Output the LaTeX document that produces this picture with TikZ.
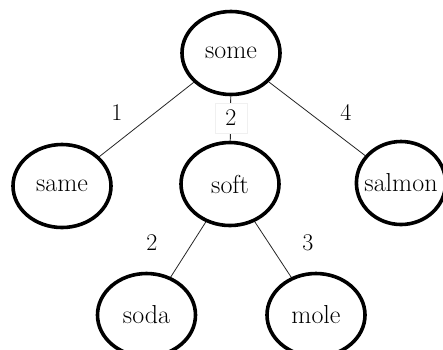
\documentclass[tikz,border=0pt]{standalone}
\usetikzlibrary{shapes.geometric}
\begin{document}
\begin{tikzpicture}[x=1pt,y=-1pt,
  word/.style={ellipse,draw=black,line width=3.6pt,minimum width=98pt,minimum height=83pt,inner sep=0pt,font=\fontsize{26}{30}\selectfont},
  num/.style={font=\fontsize{24}{28}\selectfont,inner sep=2pt},
  boxnum/.style={num,fill=white,draw=black!6,line width=0.6pt,minimum width=32pt,minimum height=30pt},
  link/.style={draw=black!85,line width=0.8pt}]
\useasboundingbox (0,0) rectangle (443,349);
\begin{scope}
\clip (0,0) rectangle (443,349);
\node[word] (some) at (231,53) {some};
\node[word] (same) at (62,186) {same};
\node[word] (soft) at (230,184) {soft};
\node[word,inner xsep=-5pt,minimum width=88pt] (salmon) at (401,183) {salmon};
\node[word] (soda) at (146.5,315) {soda};
\node[word] (mole) at (316,315) {mole};
\draw[link] (some) -- (same);
\draw[link] (some) -- (soft);
\draw[link] (some) -- (salmon);
\draw[link] (soft) -- (soda);
\draw[link] (soft) -- (mole);
\node[num] (l1) at (117,113) {1};
\node[boxnum] (l2) at (231,118) {2};
\node[num] (l4) at (346,112) {4};
\node[num] (l5) at (152,243) {2};
\node[num] (l3) at (308,243) {3};
\end{scope}
\end{tikzpicture}
\end{document}
